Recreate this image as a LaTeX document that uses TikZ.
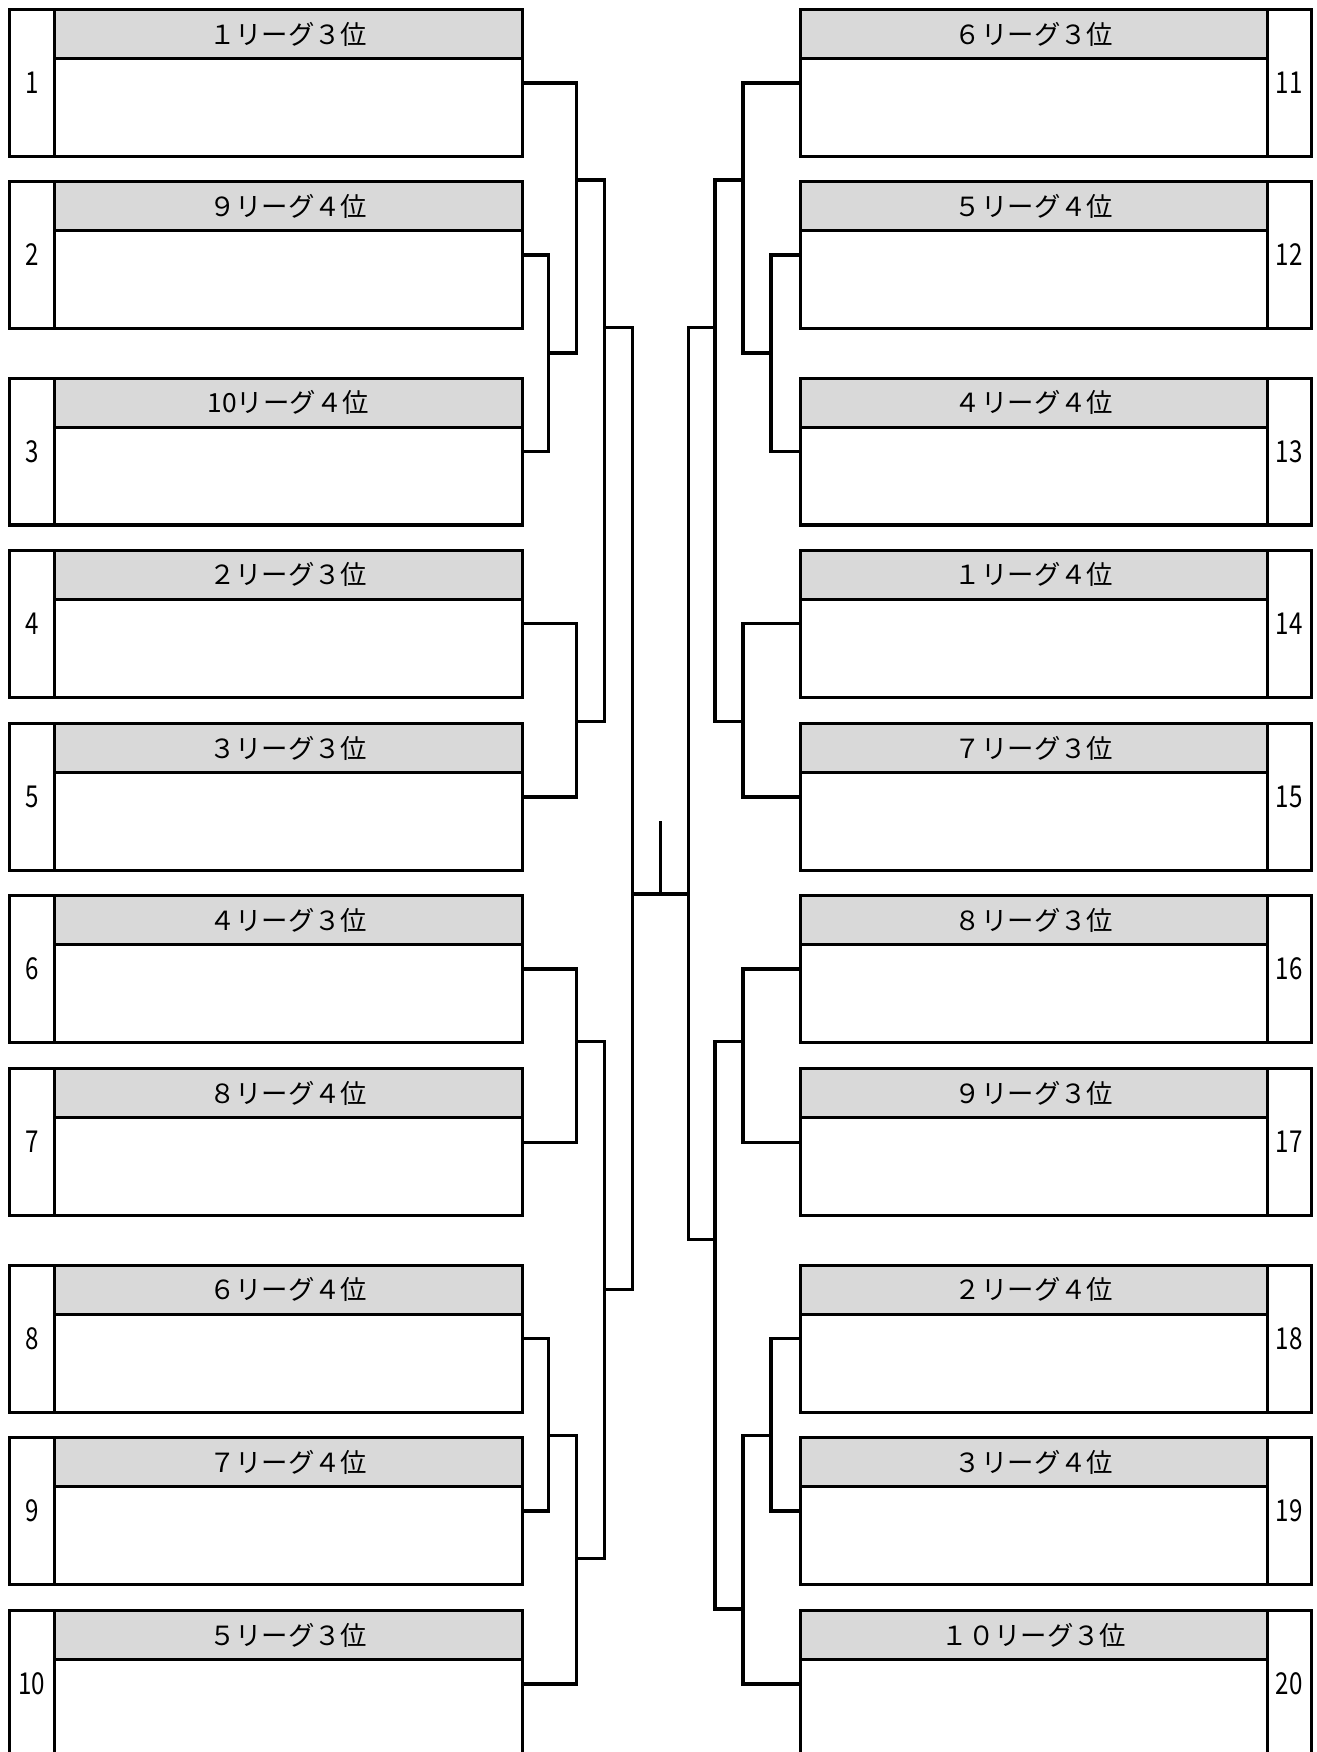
\documentclass[tikz,border=0pt]{standalone}
\usepackage{fontspec}
\setmainfont{Noto Sans CJK JP}
\definecolor{hdr}{HTML}{D9D9D9}
\begin{document}
\begin{tikzpicture}[x=0.5pt,y=-0.5pt, line width=1.45pt,
  frame/.style={draw, rectangle, inner sep=0pt, anchor=north west, minimum height=65.75pt},
  lbox/.style={frame, minimum width=229.5pt},
  rbox/.style={frame, minimum width=228.5pt},
  numcol/.style={frame, font=\fontsize{13.5}{13.5}\selectfont},
  lnum/.style={numcol, minimum width=20pt},
  rnum/.style={numcol, minimum width=19.5pt},
  headcell/.style={draw, fill=hdr, inner sep=0pt, anchor=north west, minimum height=22pt, font=\fontsize{11.8}{12}\selectfont},
  lhead/.style={headcell, minimum width=209.5pt},
  rhead/.style={headcell, minimum width=209pt},
  wire/.style={draw, line width=1.45pt}
]
\useasboundingbox (0,0) rectangle (1178,1568);
\fill[white] (0,0) rectangle (1178,1568);
\clip (0,0) rectangle (1178,1568);

% left entries
\foreach \i/\t/\lab in {1/7/１リーグ３位, 2/161/９リーグ４位, 3/337/10リーグ４位, 4/491/２リーグ３位, 5/646/３リーグ３位, 6/800/４リーグ３位, 7/955/８リーグ４位, 8/1131/６リーグ４位, 9/1285/７リーグ４位, 10/1440/５リーグ３位}{
  \node[lbox] (b\i) at (7,\t) {};
  \node[lhead] (h\i) at (47,\t) {\lab};
  \node[lnum] (n\i) at (7,\t) {\scalebox{0.8}[1]{\i}};
}
% right entries
\foreach \i/\t/\lab in {11/7/６リーグ３位, 12/161/５リーグ４位, 13/337/４リーグ４位, 14/491/１リーグ４位, 15/646/７リーグ３位, 16/800/８リーグ３位, 17/955/９リーグ３位, 18/1131/２リーグ４位, 19/1285/３リーグ４位, 20/1440/１０リーグ３位}{
  \node[rbox] (b\i) at (715,\t) {};
  \node[rhead] (h\i) at (715,\t) {\lab};
  \node[rnum] (n\i) at (1133,\t) {\scalebox{0.8}[1]{\i}};
}

% ---- left bracket ----
\coordinate (L23) at (491,316);
\coordinate (L123) at (516,316);
\draw[wire] (b2.east) -| (L23) |- (b3.east);
\draw[wire] (b1.east) -| (L123) -- (L23);
\coordinate (L45) at (516,646);
\draw[wire] (b4.east) -| (L45) |- (b5.east);
\coordinate (La) at (516,161);
\coordinate (Lb) at (541,161);
\coordinate (Lc) at (541,646);
\draw[wire] (La) -- (Lb) -- (Lc) -- (L45);
\coordinate (L67) at (516,932);
\draw[wire] (b6.east) -| (L67) |- (b7.east);
\coordinate (L89) at (491,1285);
\coordinate (L8910) at (516,1285);
\draw[wire] (b8.east) -| (L89) |- (b9.east);
\draw[wire] (L89) -- (L8910) |- (b10.east);
\coordinate (Ld) at (541,932);
\coordinate (Le) at (541,1395);
\coordinate (Lf) at (516,1395);
\draw[wire] (L67) -- (Ld) -- (Le) -- (Lf);
\coordinate (Lg) at (541,293);
\coordinate (Lh) at (566,293);
\coordinate (Li) at (566,1154);
\coordinate (Lj) at (541,1154);
\draw[wire] (Lg) -- (Lh) -- (Li) -- (Lj);

% ---- centre ----
\coordinate (Cl) at (566,800);
\coordinate (Cr) at (616,800);
\coordinate (Cm) at (591,800);
\coordinate (Ct) at (591,735);
\draw[wire] (Cl) -- (Cr);
\draw[wire] (Cm) -- (Ct);

% ---- right bracket ----
\coordinate (R1213) at (690,316);
\coordinate (R111213) at (665,316);
\draw[wire] (b12.west) -| (R1213) |- (b13.west);
\draw[wire] (b11.west) -| (R111213) -- (R1213);
\coordinate (R1415) at (665,646);
\draw[wire] (b14.west) -| (R1415) |- (b15.west);
\coordinate (Ra) at (665,161);
\coordinate (Rb) at (640,161);
\coordinate (Rc) at (640,646);
\draw[wire] (Ra) -- (Rb) -- (Rc) -- (R1415);
\coordinate (R1617) at (665,932);
\draw[wire] (b16.west) -| (R1617) |- (b17.west);
\coordinate (R1819) at (690,1285);
\coordinate (R181920) at (665,1285);
\draw[wire] (b18.west) -| (R1819) |- (b19.west);
\draw[wire] (R1819) -- (R181920) |- (b20.west);
\coordinate (Rd) at (640,932);
\coordinate (Re) at (640,1440);
\coordinate (Rf) at (665,1440);
\draw[wire] (R1617) -- (Rd) -- (Re) -- (Rf);
\coordinate (Rg) at (640,293);
\coordinate (Rh) at (616,293);
\coordinate (Ri) at (616,1109);
\coordinate (Rj) at (640,1109);
\draw[wire] (Rg) -- (Rh) -- (Ri) -- (Rj);
\end{tikzpicture}
\end{document}
